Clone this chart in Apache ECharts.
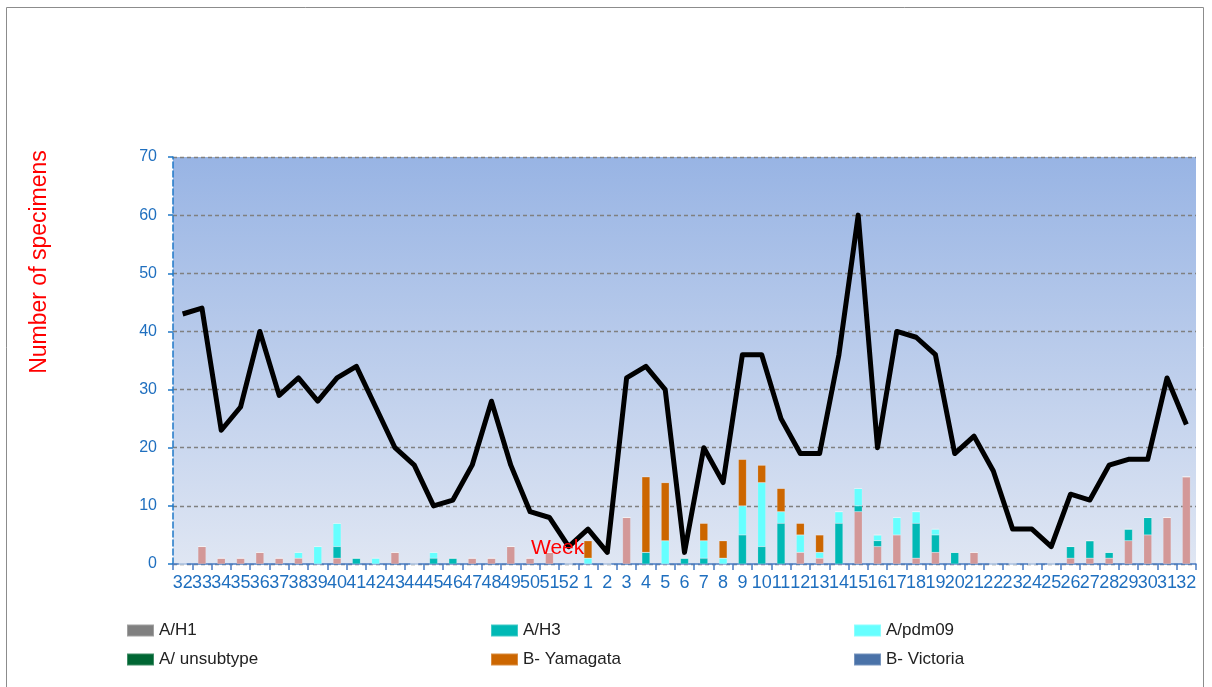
<!DOCTYPE html>
<html>
<head>
<meta charset="utf-8">
<script src="https://cdn.jsdelivr.net/npm/echarts@6/dist/echarts.min.js"></script>
<style>
  html, body { margin: 0; padding: 0; background: #fff; }
  #chart { width: 1212px; height: 687px; }
</style>
</head>
<body>
<div id="chart"></div>
<script>
// weeks 32..52 then 1..32
var weeks = ["32","33","34","35","36","37","38","39","40","41","42","43","44","45","46","47","48","49","50","51","52",
  "1","2","3","4","5","6","7","8","9","10","11","12","13","14","15","16","17","18","19","20",
  "21","22","23","24","25","26","27","28","29","30","31","32"];

var aH1       = [0,3,1,1,2,1,1,0,1,0,0,2,0,0,0,1,1,3,1,2,0, 0,0,8,0,0,0,0,0,0,0,0,2,1,0,9,3,5,1,2,0, 2,0,0,0,0,1,1,1,4,5,8,15];
var aH3       = [0,0,0,0,0,0,0,0,2,1,0,0,0,1,1,0,0,0,0,0,0, 0,0,0,2,0,1,1,0,5,3,7,0,0,7,1,1,0,6,3,2, 0,0,0,0,0,2,3,1,2,3,0,0];
var aPdm09    = [0,0,0,0,0,0,1,3,4,0,1,0,0,1,0,0,0,0,0,0,0, 1,0,0,0,4,0,3,1,5,11,2,3,1,2,3,1,3,2,1,0, 0,0,0,0,0,0,0,0,0,0,0,0];
var aUnsub    = [0,0,0,0,0,0,0,0,0,0,0,0,0,0,0,0,0,0,0,0,0, 0,0,0,0,0,0,0,0,0,0,0,0,0,0,0,0,0,0,0,0, 0,0,0,0,0,0,0,0,0,0,0,0];
var bYamagata = [0,0,0,0,0,0,0,0,0,0,0,0,0,0,0,0,0,0,0,0,0, 3,0,0,13,10,0,3,3,8,3,4,2,3,0,0,0,0,0,0,0, 0,0,0,0,0,0,0,0,0,0,0,0];
var bVictoria = [0,0,0,0,0,0,0,0,0,0,0,0,0,0,0,0,0,0,0,0,0, 0,0,0,0,0,0,0,0,0,0,0,0,0,0,0,0,0,0,0,0, 0,0,0,0,0,0,0,0,0,0,0,0];
var totalSpecimens = [43,44,23,27,40,29,32,28,32,34,27,20,17,10,11,17,28,17,9,8,3,
  6,2,32,34,30,2,20,14,36,36,25,19,19,36,60,20,40,39,36,19,
  22,16,6,6,3,12,11,17,18,18,32,24];
var yTicks = [0, 70, 10]; // min, max, interval

var blueText = "#1f6fbf";
var font = "'Liberation Sans Narrow','Liberation Sans',sans-serif";

function barSeries(name, data, color) {
  return {
    name: name,
    type: "bar",
    stack: "flu",
    barWidth: 8,
    itemStyle: { color: color, borderColor: "rgba(255,255,255,0.25)", borderWidth: 0.5 },
    data: data
  };
}

var legendBase = {
  top: 622, padding: 0, orient: "vertical", icon: "rect", itemWidth: 27, itemHeight: 12, itemGap: 12,
  textStyle: { color: "#222", fontSize: 17, fontFamily: font }
};

var myChart = echarts.init(document.getElementById("chart"));
var option = {
  animation: false,
  grid: {
    show: true,
    left: 173,
    right: 16,
    top: 157,
    bottom: 123,
    borderWidth: 0,
    backgroundColor: new echarts.graphic.LinearGradient(0, 0, 0, 1, [
      { offset: 0, color: "#98b4e4" },
      { offset: 1, color: "#dfe6f3" }
    ])
  },
  legend: [
    Object.assign({ left: 126, data: [{ name: "A/H1", itemStyle: { color: "#808080" } }, "A/ unsubtype"] }, legendBase),
    Object.assign({ left: 490, data: ["A/H3", "B- Yamagata"] }, legendBase),
    Object.assign({ left: 853, data: ["A/pdm09", "B- Victoria"] }, legendBase)
  ],
  xAxis: {
    type: "category",
    data: weeks,
    axisLine: { lineStyle: { color: "#4a7cc4", width: 1.5 } },
    axisTick: { show: true, length: 6, lineStyle: { color: "#4a7cc4", width: 1.5 } },
    axisLabel: { interval: 0, color: blueText, fontSize: 18, fontFamily: font, margin: 10 },
    splitLine: { show: false }
  },
  yAxis: {
    type: "value",
    min: yTicks[0],
    max: yTicks[1],
    interval: yTicks[2],
    axisLine: { show: true, lineStyle: { color: "#1f78c8", type: "dashed", width: 1.5 } },
    axisTick: { show: true, length: 5, lineStyle: { color: "#1f78c8", width: 1.5 } },
    axisLabel: { color: blueText, fontSize: 16, fontFamily: font, margin: 16 },
    splitLine: { show: true, lineStyle: { color: "#808080", type: [4, 3], width: 1.3 } }
  },
  graphic: [
    {
      type: "rect",
      shape: { x: 6.5, y: 7.5, width: 1197, height: 700 },
      style: { fill: "none", stroke: "#8c8c8c", lineWidth: 1 },
      silent: true
    },
    {
      type: "text",
      x: 40, y: 262,
      rotation: Math.PI / 2,
      style: { text: "Number of specimens", fill: "#ff0000", fontSize: 23, fontFamily: "'Liberation Sans',sans-serif",
        align: "center", verticalAlign: "middle" }
    },
    {
      type: "text",
      x: 531, y: 538,
      z: 100,
      style: { text: "Week", fill: "#ff0000", fontSize: 21, fontFamily: "'Liberation Sans',sans-serif" }
    }
  ],
  series: [
    barSeries("A/H1", aH1, "#d39898"),
    barSeries("A/H3", aH3, "#00b9b5"),
    barSeries("A/pdm09", aPdm09, "#66ffff"),
    barSeries("A/ unsubtype", aUnsub, "#006633"),
    barSeries("B- Yamagata", bYamagata, "#cc6600"),
    barSeries("B- Victoria", bVictoria, "#4a72a8"),
    {
      name: "Total",
      type: "line",
      data: totalSpecimens,
      showSymbol: false,
      symbol: "none",
      z: 5,
      lineStyle: { color: "#000", width: 5, join: "round" }
    }
  ]
};
myChart.setOption(option);
</script>
</body>
</html>
